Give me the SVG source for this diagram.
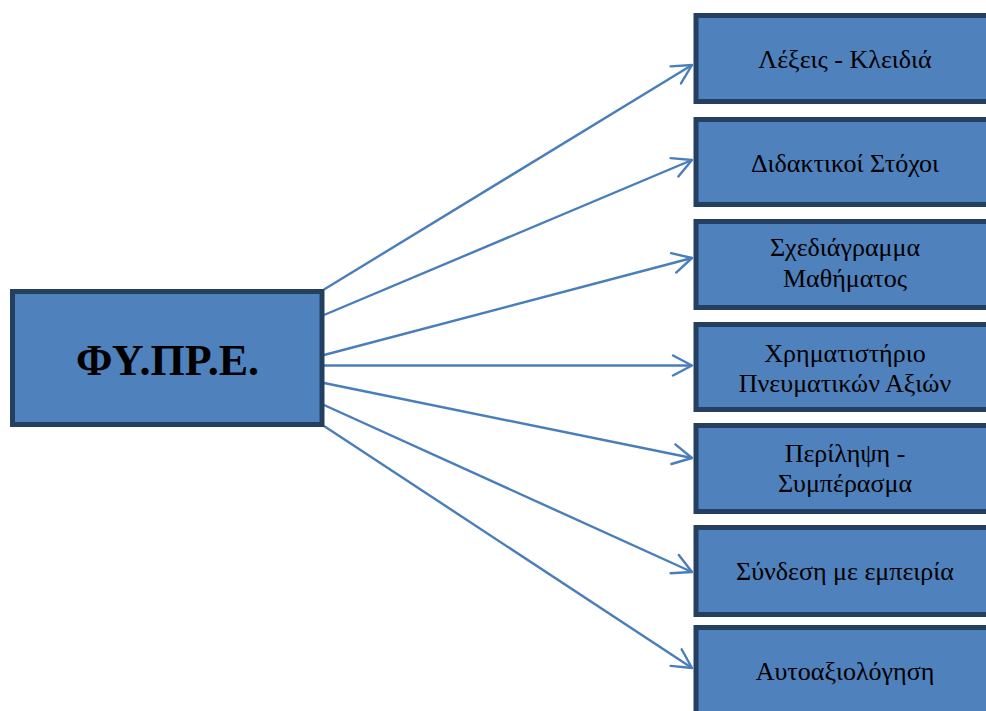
<svg xmlns="http://www.w3.org/2000/svg" width="986" height="711" viewBox="0 0 986 711">
<defs>
<style>
.box{fill:#4F81BD;stroke:#243F60;stroke-width:5}
.lbl{font-family:"Liberation Serif","DejaVu Serif",serif;font-size:26px;fill:#000;text-anchor:middle}
.title{font-family:"Liberation Serif","DejaVu Serif",serif;font-size:44px;font-weight:bold;fill:#000;text-anchor:middle}
.conn{stroke:#4A7EBB;stroke-width:2.4;fill:none;marker-end:url(#arr)}
</style>
<marker id="arr" viewBox="0 0 24 24" refX="21" refY="12" markerWidth="24" markerHeight="24" markerUnits="userSpaceOnUse" orient="auto">
<path d="M2,2 L21,12 L2,22" fill="none" stroke="#4A7EBB" stroke-width="2.4" stroke-linecap="round" stroke-linejoin="round"/>
</marker>
</defs>
<rect width="986" height="711" fill="#fff"/>
<g id="connectors">
<line class="conn" x1="324" y1="289.5" x2="692" y2="65"/>
<line class="conn" x1="324" y1="315" x2="692" y2="160"/>
<line class="conn" x1="324" y1="355" x2="692" y2="258"/>
<line class="conn" x1="324" y1="365.5" x2="692" y2="365.5"/>
<line class="conn" x1="324" y1="383" x2="692" y2="458"/>
<line class="conn" x1="324" y1="405" x2="692" y2="572"/>
<line class="conn" x1="324" y1="426" x2="692" y2="668"/>
</g>
<g id="node-main">
<rect class="box" x="12.5" y="291.5" width="309.5" height="133"/>
<text class="title" x="167.5" y="375">ΦΥ.ΠΡ.Ε.</text>
</g>
<g id="node-1">
<rect class="box" x="696" y="15.5" width="300" height="86"/>
<text class="lbl" x="845" y="68">Λέξεις - Κλειδιά</text>
</g>
<g id="node-2">
<rect class="box" x="696" y="119.5" width="300" height="85"/>
<text class="lbl" x="845" y="172">Διδακτικοί Στόχοι</text>
</g>
<g id="node-3">
<rect class="box" x="696" y="221.5" width="300" height="86"/>
<text class="lbl" x="845" y="256">Σχεδιάγραμμα</text>
<text class="lbl" x="845" y="286.5">Μαθήματος</text>
</g>
<g id="node-4">
<rect class="box" x="696" y="324.5" width="300" height="85"/>
<text class="lbl" x="845" y="361.5">Χρηματιστήριο</text>
<text class="lbl" x="845" y="391.5">Πνευματικών Αξιών</text>
</g>
<g id="node-5">
<rect class="box" x="696" y="425.5" width="300" height="86"/>
<text class="lbl" x="845" y="461.5">Περίληψη -</text>
<text class="lbl" x="845" y="491.5">Συμπέρασμα</text>
</g>
<g id="node-6">
<rect class="box" x="696" y="527.5" width="300" height="87"/>
<text class="lbl" x="845" y="580">Σύνδεση με εμπειρία</text>
</g>
<g id="node-7">
<rect class="box" x="696" y="627.5" width="300" height="90"/>
<text class="lbl" x="845" y="680">Αυτοαξιολόγηση</text>
</g>
</svg>
